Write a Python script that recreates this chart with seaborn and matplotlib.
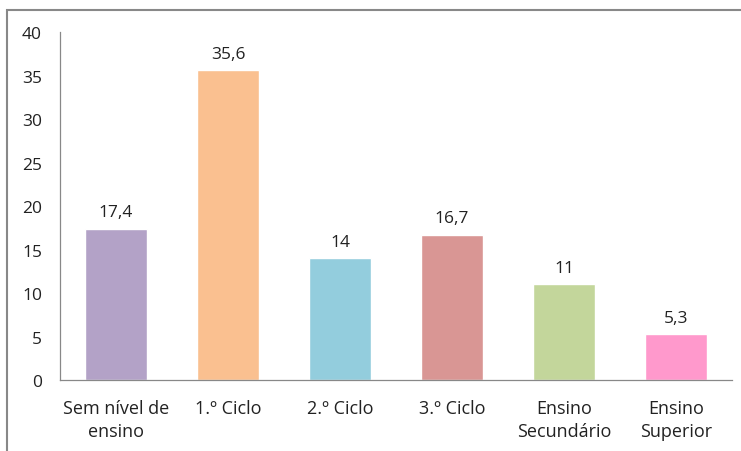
import pandas as pd
import matplotlib
matplotlib.use("Agg")
import matplotlib.pyplot as plt
import seaborn as sns
from matplotlib.patches import Rectangle

# dados do gráfico
categorias = ["Sem nível de\nensino", "1.º Ciclo", "2.º Ciclo", "3.º Ciclo",
              "Ensino\nSecundário", "Ensino\nSuperior"]
valores = [17.4, 35.6, 14, 16.7, 11, 5.3]
rotulos = ["17,4", "35,6", "14", "16,7", "11", "5,3"]
cores = ["#B3A2C7", "#FAC090", "#93CDDD", "#D99694", "#C3D69B", "#FF99CC"]
yticks = [0, 5, 10, 15, 20, 25, 30, 35, 40]

df = pd.DataFrame({"categoria": categorias, "valor": valores})

sns.set_style("white")
plt.rcParams["font.family"] = ["Open Sans", "DejaVu Sans"]

fig = plt.figure(figsize=(7.41, 4.52), dpi=100)
ax = fig.add_axes([0.081, 0.157, 0.907, 0.770])

sns.barplot(data=df, x="categoria", y="valor", hue="categoria",
            palette=cores, legend=False, width=0.56, saturation=1, ax=ax)

for p, txt in zip(ax.patches, rotulos):
    ax.annotate(txt, (p.get_x() + p.get_width() / 2, p.get_height()),
                xytext=(0, 6), textcoords="offset points",
                ha="center", va="bottom", fontsize=12.5, color="#222222")

ax.set_ylim(0, 40)
ax.set_xlim(-0.5, len(categorias) - 0.5)
ax.set_yticks(yticks)
ax.set_xlabel("")
ax.set_ylabel("")
ax.tick_params(axis="y", length=0, pad=13, labelsize=12.5, colors="#222222")
ax.tick_params(axis="x", length=0, pad=14, labelsize=13, colors="#222222")
for lbl in ax.get_xticklabels():
    lbl.set_multialignment("center")
    lbl.set_linespacing(1.35)

sns.despine(ax=ax, top=True, right=True)
for s in ["left", "bottom"]:
    ax.spines[s].set_color("#888888")
    ax.spines[s].set_linewidth(0.9)

# moldura do gráfico (estilo Excel)
fig.patches.append(Rectangle((6.5 / 741, -0.1), 1.2, 1 - 10.5 / 452 + 0.1,
                             transform=fig.transFigure, fill=False,
                             edgecolor="#888888", linewidth=1.5))

fig.savefig("out.png", dpi=100)
